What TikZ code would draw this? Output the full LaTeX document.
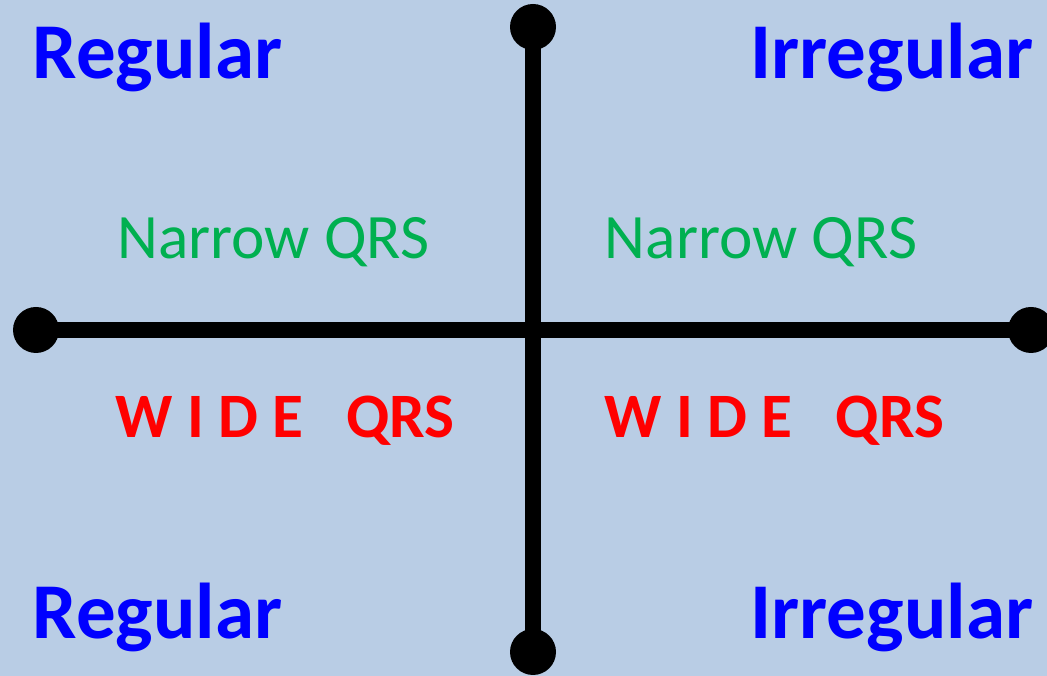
\documentclass[tikz,border=0pt]{standalone}
\usepackage{fontspec}
\setmainfont{Carlito}
\usetikzlibrary{positioning}
\definecolor{bgblue}{RGB}{185,205,229}
\definecolor{rhythmblue}{RGB}{0,0,255}
\definecolor{narrowgreen}{RGB}{0,176,80}
\definecolor{widered}{RGB}{255,0,0}

\begin{document}
\begin{tikzpicture}[
    dot/.style={circle, fill=black, inner sep=0pt, minimum size=0.46cm},
    axis/.style={line width=0.16cm},
    rhythm/.style={text=rhythmblue, font=\fontsize{22.5}{27}\selectfont\bfseries, inner sep=0pt},
    narrow/.style={text=narrowgreen, font=\fontsize{18}{22}\selectfont, inner sep=0pt},
    wide/.style={text=widered, font=\fontsize{18}{22}\selectfont\bfseries, inner sep=0pt}]
    \fill[bgblue] (0,0) rectangle (10.47,6.76);
    \useasboundingbox (0,0) rectangle (10.47,6.76);
    % axes
    \coordinate (top) at (5.33,6.49);
    \coordinate (bottom) at (5.33,0.24);
    \coordinate (left) at (0.36,3.46);
    \coordinate (right) at (10.31,3.46);
    \draw[axis] (top) -- (bottom);
    \draw[axis] (left) -- (right);
    \node[dot] (topdot) at (top) {};
    \node[dot] (bottomdot) at (bottom) {};
    \node[dot] (leftdot) at (left) {};
    \node[dot] (rightdot) at (right) {};
    % rhythm labels
    \node[rhythm, anchor=base west] (regtop) at (0.32,5.97) {Regular};
    \node[rhythm, anchor=base east] (irrtop) at (10.34,5.97) {Irregular};
    \node[rhythm, anchor=base west] (regbot) at (0.32,0.37) {Regular};
    \node[rhythm, anchor=base east] (irrbot) at (10.34,0.37) {Irregular};
    % QRS labels
    \node[narrow, anchor=base] (narrowleft) at (2.735,4.17) {Narrow QRS};
    \node[narrow, anchor=base] (narrowright) at (7.61,4.17) {Narrow QRS};
    \node[wide, anchor=base] (wideleft) at (2.85,2.38) {W I D E\ \ \ QRS};
    \node[wide, anchor=base] (wideright) at (7.745,2.38) {W I D E\ \ \ QRS};
\end{tikzpicture}
\end{document}
